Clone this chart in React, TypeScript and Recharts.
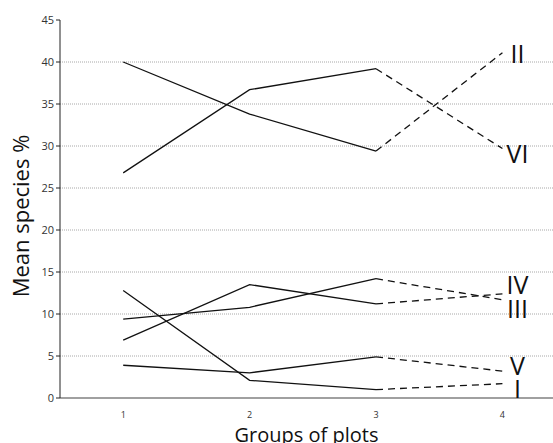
import React from 'react';
import { LineChart, Line, XAxis, YAxis, ReferenceLine } from 'recharts';

// groups of plots on the x axis
const groups = [1, 2, 3, 4];
const yTicks = [0, 5, 10, 15, 20, 25, 30, 35, 40, 45];
const gridValues = [5, 10, 15, 20, 25, 30, 35, 40];

// mean species % per series, one value per group
const seriesII = [40.0, 33.8, 29.4, 41.1];
const seriesVI = [26.8, 36.7, 39.2, 29.7];
const seriesIV = [6.9, 13.5, 11.2, 12.4];
const seriesIII = [9.4, 10.8, 14.2, 11.7];
const seriesV = [3.9, 3.0, 4.9, 3.2];
const seriesI = [12.8, 2.1, 1.0, 1.7];

const series = [
  { name: 'II', values: seriesII },
  { name: 'VI', values: seriesVI },
  { name: 'IV', values: seriesIV },
  { name: 'III', values: seriesIII },
  { name: 'V', values: seriesV },
  { name: 'I', values: seriesI },
];

// vertical nudge of the end labels so they don't collide
const labelDy: Record<string, number> = { II: 0, VI: 4, IV: -10, III: 8, V: -6, I: 4 };

// solid from group 1 to 3, dashed from 3 to 4
const data = groups.map((g, i) => {
  const row: Record<string, number | null> = { g };
  series.forEach((s) => {
    row[s.name + '_solid'] = i <= 2 ? s.values[i] : null;
    row[s.name + '_dash'] = i >= 2 ? s.values[i] : null;
  });
  return row;
});

const font = '"Open Sans", "DejaVu Sans", sans-serif';

const endLabel = (name: string) => (props: any) => {
  const { x, y, index } = props;
  if (index !== groups.length - 1) return null;
  return (
    <text x={x + 15} y={y + labelDy[name]} textAnchor="middle" dominantBaseline="central"
      fontSize={25} fontFamily={font} fill="#111">
      {name}
    </text>
  );
};

export default function App() {
  return (
    <div style={{ position: 'absolute', left: 0, top: 0, background: '#fff' }}>
      <LineChart width={553} height={443} data={data} margin={{ top: 20, right: 0, bottom: 0, left: 0 }}>
        {gridValues.map((v) => (
          <ReferenceLine key={v} y={v} stroke="#a8a8a8" strokeDasharray="1 1" />
        ))}
        <XAxis
          dataKey="g"
          type="number"
          domain={[0.5, 4.4]}
          ticks={groups}
          height={45}
          tickLine={false}
          tickMargin={8}
          axisLine={{ stroke: '#a0a0a0', strokeWidth: 2 }}
          tick={{ fontSize: 9, fill: '#333', fontFamily: font }}
          label={{
            value: 'Groups of plots',
            position: 'insideBottom',
            offset: 1,
            fontSize: 20,
            fill: '#111',
            fontFamily: font,
          }}
        />
        <YAxis
          domain={[0, 45]}
          ticks={yTicks}
          width={60}
          tickSize={4}
          tickMargin={2}
          axisLine={{ stroke: '#222' }}
          tickLine={{ stroke: '#222' }}
          tick={{ fontSize: 11, fill: '#333', fontFamily: font }}
          label={{
            content: (p: any) => {
              const vb = p.viewBox;
              const cy = vb.y + vb.height / 2 + 7;
              return (
                <text x={20} y={cy} transform={`rotate(-90, 20, ${cy})`} textAnchor="middle"
                  dominantBaseline="central" fontSize={22} fontFamily={font} fill="#111">
                  Mean species %
                </text>
              );
            },
          }}
        />
        {series.map((s) => (
          <Line key={s.name + 's'} dataKey={s.name + '_solid'} stroke="#111" strokeWidth={1.3}
            dot={false} activeDot={false} isAnimationActive={false} connectNulls={false} />
        ))}
        {series.map((s) => (
          <Line key={s.name + 'd'} dataKey={s.name + '_dash'} stroke="#111" strokeWidth={1.3}
            strokeDasharray="7 5" dot={false} activeDot={false} isAnimationActive={false}
            label={endLabel(s.name)} />
        ))}
      </LineChart>
    </div>
  );
}
